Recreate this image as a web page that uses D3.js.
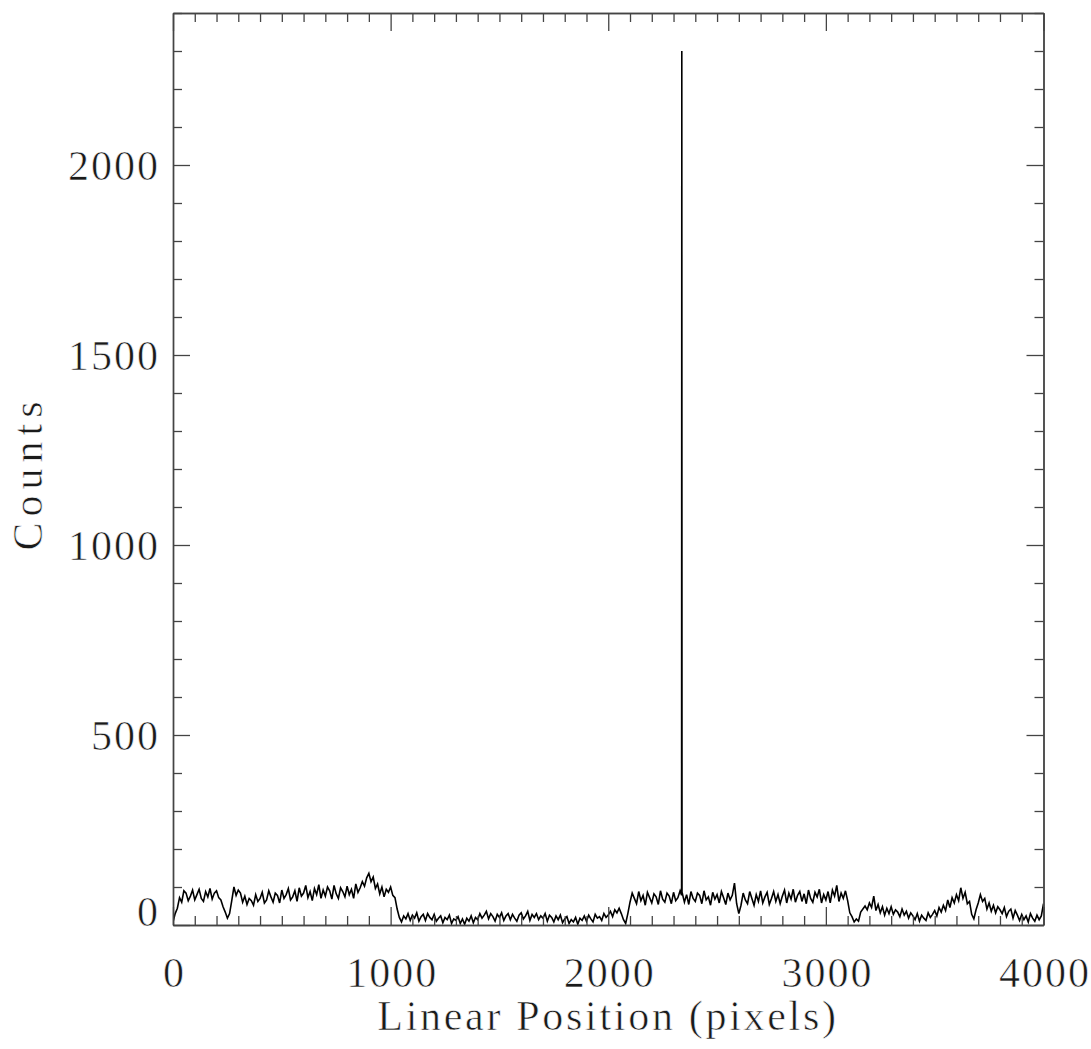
<!DOCTYPE html>
<html>
<head>
<meta charset="utf-8">
<script src="https://cdn.jsdelivr.net/npm/d3@7"></script>
<style>
  html, body { margin: 0; padding: 0; background: #fff; }
  svg { display: block; }
  .lbl {
    font-family: "Liberation Serif", "DejaVu Serif", serif;
    fill: #1a1a1a;
    stroke: #fff;
    stroke-width: 0.6px;
  }
</style>
</head>
<body>
<svg id="chart" width="1091" height="1049"></svg>
<script>
// Detector trace: counts sampled every 10 pixels from 0 to 4000
const sampleStart = 0;
const sampleStep = 10;
const counts = [
  8, 30, 44, 72, 60, 90, 84, 64, 76, 92,
  66, 80, 94, 70, 62, 88, 74, 96, 68, 84,
  90, 72, 66, 48, 34, 18, 30, 64, 100, 78,
  92, 84, 60, 76, 54, 70, 64, 52, 80, 62,
  70, 86, 58, 66, 90, 74, 60, 84, 78, 58,
  92, 70, 80, 96, 66, 74, 90, 62, 98, 76,
  84, 104, 72, 88, 64, 96, 80, 106, 70, 92,
  76, 100, 90, 68, 104, 82, 70, 98, 88, 74,
  102, 80, 94, 70, 108, 86, 98, 114, 102, 124,
  136, 114, 126, 96, 108, 82, 100, 74, 94, 86,
  100, 78, 72, 42, 20, 8, 24, 16, 30, 12,
  26, 18, 32, 10, 22, 28, 12, 30, 20, 14,
  28, 10, 18, 24, 6, 20, 14, 26, 4, 16,
  12, 22, 4, 16, 2, 18, 10, 24, 6, 20,
  14, 30, 18, 26, 36, 16, 30, 22, 10, 28,
  20, 32, 12, 24, 30, 14, 28, 18, 10, 26,
  32, 16, 24, 36, 12, 28, 20, 30, 14, 24,
  18, 30, 10, 26, 20, 8, 24, 14, 26, 6,
  16, 22, 4, 14, 8, 20, 2, 18, 12, 24,
  10, 26, 16, 8, 28, 18, 22, 12, 30, 20,
  26, 36, 22, 40, 32, 44, 30, 14, 4, 30,
  60, 84, 70, 56, 88, 64, 78, 52, 86, 72,
  58, 82, 74, 54, 90, 68, 60, 84, 76, 56,
  86, 64, 72, 90, 84, 60, 80, 54, 88, 70,
  62, 84, 78, 56, 90, 66, 74, 52, 86, 68,
  80, 58, 88, 72, 54, 84, 66, 78, 110, 56,
  30, 52, 84, 66, 56, 88, 70, 52, 80, 62,
  90, 58, 74, 86, 54, 70, 88, 62, 80, 56,
  76, 92, 58, 84, 68, 94, 60, 78, 88, 62,
  82, 56, 92, 70, 60, 86, 74, 94, 58, 80,
  66, 88, 58, 92, 76, 104, 62, 84, 70, 90,
  64, 32, 22, 8, 16, 10, 34, 42, 50, 40,
  58, 46, 76, 38, 54, 32, 48, 26, 44, 30,
  48, 28, 40, 34, 22, 42, 26, 36, 18, 32,
  24, 14, 30, 10, 26, 18, 12, 32, 20, 28,
  38, 24, 46, 34, 52, 38, 66, 46, 72, 58,
  80, 64, 98, 70, 86, 56, 62, 28, 16, 40,
  58, 80, 62, 70, 42, 58, 36, 52, 32, 48,
  40, 30, 46, 22, 36, 42, 18, 38, 26, 12,
  28, 14, 24, 8, 30, 18, 10, 26, 14, 24,
  56
];

// Narrow hot-pixel spike
const spikePositions = [2337, 2338, 2339];
const spikeCounts = [78, 2300, 84];

// Axis ticks
const xMajorTicks = [0, 1000, 2000, 3000, 4000];
const xTickLabels = ["0", "1000", "2000", "3000", "4000"];
const yMajorTicks = [0, 500, 1000, 1500, 2000];
const yTickLabels = ["0", "500", "1000", "1500", "2000"];
const xTitle = "Linear Position (pixels)";
const yTitle = "Counts";

const svg = d3.select("#chart");
const plot = { left: 173, right: 1043.5, top: 13, bottom: 925 };

const x = d3.scaleLinear().domain([0, 4000]).range([plot.left, plot.right]);
const y = d3.scaleLinear().domain([0, 2400]).range([plot.bottom, plot.top]);

// Merge the regular samples with the spike points
const series = counts.map((c, i) => ({ pos: sampleStart + i * sampleStep, val: c }))
  .concat(spikePositions.map((p, i) => ({ pos: p, val: spikeCounts[i] })))
  .sort((a, b) => a.pos - b.pos);

svg.append("clipPath").attr("id", "plotClip")
  .append("rect")
  .attr("x", plot.left).attr("y", plot.top)
  .attr("width", plot.right - plot.left).attr("height", plot.bottom - plot.top);

const line = d3.line().x(d => x(d.pos)).y(d => y(d.val));
svg.append("path")
  .datum(series)
  .attr("clip-path", "url(#plotClip)")
  .attr("fill", "none")
  .attr("stroke", "#000")
  .attr("stroke-width", 1.6)
  .attr("stroke-linejoin", "miter")
  .attr("d", line);

// Ticks: minor every 100 (x and y), major per tick arrays
const xMinor = d3.range(0, 4001, 100).filter(v => !xMajorTicks.includes(v));
const yMinor = d3.range(0, 2401, 100).filter(v => !yMajorTicks.includes(v));

function styleAxis(g) {
  g.selectAll("path.domain").attr("stroke", "#444").attr("stroke-width", 1.4);
  g.selectAll(".tick line").attr("stroke", "#444").attr("stroke-width", 1.3);
}

// Bottom axis
const gB1 = svg.append("g").attr("transform", `translate(0,${plot.bottom})`)
  .call(d3.axisBottom(x).tickValues(xMinor).tickSize(-9).tickSizeOuter(0).tickFormat(""));
styleAxis(gB1);
const gB2 = svg.append("g").attr("transform", `translate(0,${plot.bottom})`)
  .call(d3.axisBottom(x).tickValues(xMajorTicks).tickSize(-18).tickSizeOuter(0)
    .tickFormat((d, i) => xTickLabels[i]));
styleAxis(gB2);
gB2.selectAll(".tick text")
  .attr("class", "lbl")
  .attr("y", 62).attr("dy", 0)
  .attr("dx", 1)
  .style("font-size", "42px")
  .style("letter-spacing", "2px");

// Top axis
const gT1 = svg.append("g").attr("transform", `translate(0,${plot.top})`)
  .call(d3.axisTop(x).tickValues(xMinor).tickSize(-9).tickSizeOuter(0).tickFormat(""));
styleAxis(gT1);
const gT2 = svg.append("g").attr("transform", `translate(0,${plot.top})`)
  .call(d3.axisTop(x).tickValues(xMajorTicks).tickSize(-18).tickSizeOuter(0).tickFormat(""));
styleAxis(gT2);

// Left axis
const gL1 = svg.append("g").attr("transform", `translate(${plot.left},0)`)
  .call(d3.axisLeft(y).tickValues(yMinor).tickSize(-9).tickSizeOuter(0).tickFormat(""));
styleAxis(gL1);
const gL2 = svg.append("g").attr("transform", `translate(${plot.left},0)`)
  .call(d3.axisLeft(y).tickValues(yMajorTicks).tickSize(-17).tickSizeOuter(0)
    .tickFormat((d, i) => yTickLabels[i]));
styleAxis(gL2);
gL2.selectAll(".tick text")
  .attr("class", "lbl")
  .attr("x", -13)
  .attr("dy", d => d === 0 ? "0px" : "14px")
  .style("font-size", "42px")
  .style("letter-spacing", "2px");

// Right axis
const gR1 = svg.append("g").attr("transform", `translate(${plot.right},0)`)
  .call(d3.axisRight(y).tickValues(yMinor).tickSize(-9).tickSizeOuter(0).tickFormat(""));
styleAxis(gR1);
const gR2 = svg.append("g").attr("transform", `translate(${plot.right},0)`)
  .call(d3.axisRight(y).tickValues(yMajorTicks).tickSize(-17).tickSizeOuter(0).tickFormat(""));
styleAxis(gR2);

// Axis titles
svg.append("text").attr("class", "lbl")
  .attr("x", 608).attr("y", 1030)
  .attr("text-anchor", "middle")
  .style("font-size", "42px")
  .style("letter-spacing", "2.7px")
  .text(xTitle);

svg.append("text").attr("class", "lbl")
  .attr("transform", "translate(42,473) rotate(-90)")
  .attr("text-anchor", "middle")
  .style("font-size", "42px")
  .style("letter-spacing", "6px")
  .text(yTitle);
</script>
</body>
</html>
